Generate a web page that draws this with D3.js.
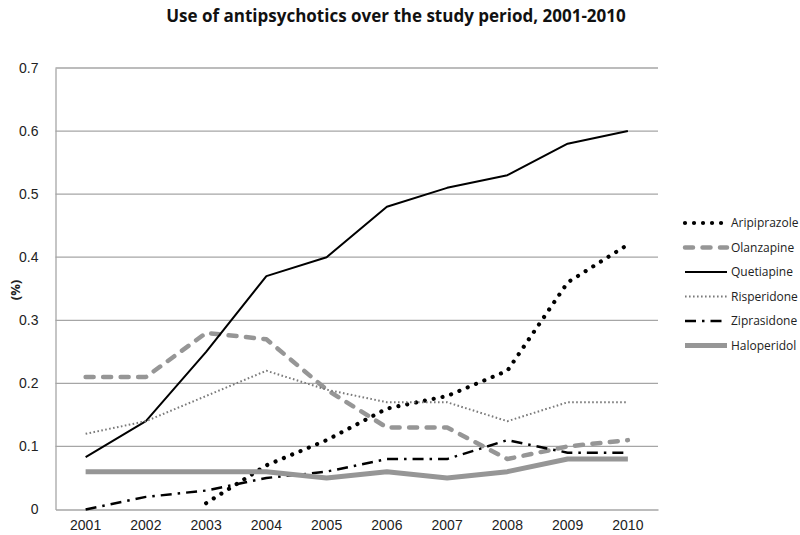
<!DOCTYPE html>
<html>
<head>
<meta charset="utf-8">
<script src="https://cdn.jsdelivr.net/npm/d3@7"></script>
<style>
  body { margin: 0; background: #fff; }
  svg { display: block; font-family: "Open Sans", "Liberation Sans", sans-serif; }
</style>
</head>
<body>
<svg id="chart" width="800" height="535"></svg>
<script>
const years = ["2001","2002","2003","2004","2005","2006","2007","2008","2009","2010"];
const yTicks = [0, 0.1, 0.2, 0.3, 0.4, 0.5, 0.6, 0.7];
const seriesNames = ["Aripiprazole","Olanzapine","Quetiapine","Risperidone","Ziprasidone","Haloperidol"];
const aripiprazole = [null, null, 0.01, 0.07, 0.11, 0.16, 0.18, 0.22, 0.36, 0.42];
const olanzapine   = [0.21, 0.21, 0.28, 0.27, 0.19, 0.13, 0.13, 0.08, 0.10, 0.11];
const quetiapine   = [0.083, 0.14, 0.25, 0.37, 0.40, 0.48, 0.51, 0.53, 0.58, 0.60];
const risperidone  = [0.12, 0.14, 0.18, 0.22, 0.19, 0.17, 0.17, 0.14, 0.17, 0.17];
const ziprasidone  = [0.00, 0.02, 0.03, 0.05, 0.06, 0.08, 0.08, 0.11, 0.09, 0.09];
const haloperidol  = [0.06, 0.06, 0.06, 0.06, 0.05, 0.06, 0.05, 0.06, 0.08, 0.08];

const seriesValues = [aripiprazole, olanzapine, quetiapine, risperidone, ziprasidone, haloperidol];
const styles = [
  {color:"#000", width:4.2, dash:"0.01 9", cap:"round"},
  {color:"#969696", width:4.5, dash:"8 9.5", cap:"round"},
  {color:"#000", width:2, dash:null, cap:"butt"},
  {color:"#7a7a7a", width:2, dash:"1.6 2.4", cap:"butt"},
  {color:"#000", width:2.4, dash:"11 6 2.5 6", cap:"butt"},
  {color:"#969696", width:5, dash:null, cap:"butt"}
];

const svg = d3.select("#chart");
const mLeft = 55.5, mRight = 658, mTop = 68, mBottom = 509.5;

const x = d3.scaleBand().domain(years).range([mLeft, mRight]);
const y = d3.scaleLinear().domain([0, 0.7]).range([mBottom, mTop]);

// gridlines
svg.append("g").selectAll("line").data(yTicks.filter(d => d > 0)).join("line")
  .attr("x1", mLeft).attr("x2", mRight)
  .attr("y1", d => y(d)).attr("y2", d => y(d))
  .attr("stroke", "#a6a6a6").attr("stroke-width", 1.3);

// y axis
const yAxis = svg.append("g").attr("transform", `translate(${mLeft},0)`)
  .call(d3.axisLeft(y).tickValues(yTicks).tickSize(0).tickPadding(17)
    .tickFormat(d => d === 0 ? "0" : d3.format(".1f")(d)));
yAxis.select(".domain").attr("stroke", "#a6a6a6").attr("stroke-width", 1.3);
yAxis.selectAll("text").attr("font-size", 14).attr("fill", "#222");

// x axis
const xAxis = svg.append("g").attr("transform", `translate(0,${mBottom})`)
  .call(d3.axisBottom(x).tickSize(0).tickPadding(11));
xAxis.select(".domain").attr("stroke", "#a6a6a6").attr("stroke-width", 1.3);
xAxis.selectAll("text").attr("font-size", 14).attr("fill", "#222");

// lines
const line = d3.line()
  .defined(d => d != null)
  .x((d, i) => x(years[i]) + x.bandwidth() / 2)
  .y(d => y(d));

seriesValues.forEach((vals, i) => {
  const s = styles[i];
  const p = svg.append("path")
    .datum(vals)
    .attr("d", line)
    .attr("fill", "none")
    .attr("stroke", s.color)
    .attr("stroke-width", s.width)
    .attr("stroke-linecap", s.cap)
    .attr("stroke-linejoin", "round");
  if (s.dash) p.attr("stroke-dasharray", s.dash);
});

// legend
const legendY = [223, 247.5, 272, 296.5, 321, 345.5];
const lg = svg.append("g");
seriesNames.forEach((name, i) => {
  const s = styles[i];
  const ly = legendY[i];
  const l = lg.append("line")
    .attr("x1", 685).attr("x2", 727)
    .attr("y1", ly).attr("y2", ly)
    .attr("stroke", s.color).attr("stroke-width", s.width)
    .attr("stroke-linecap", s.cap);
  if (s.dash) l.attr("stroke-dasharray", s.dash);
  lg.append("text").attr("x", 731).attr("y", ly).attr("dy", "0.35em")
    .attr("font-size", 12).attr("fill", "#222").text(name);
});

// y axis title
svg.append("text")
  .attr("transform", "translate(15,290) rotate(-90)")
  .attr("text-anchor", "middle").attr("dy", "0.35em")
  .attr("font-size", 13).attr("font-weight", "bold").attr("fill", "#222")
  .text("(%)");

// title
svg.append("text")
  .attr("x", 396).attr("y", 22)
  .attr("text-anchor", "middle")
  .attr("font-size", 17).attr("font-weight", "bold").attr("fill", "#111")
  .text("Use of antipsychotics over the study period, 2001-2010");
</script>
</body>
</html>
